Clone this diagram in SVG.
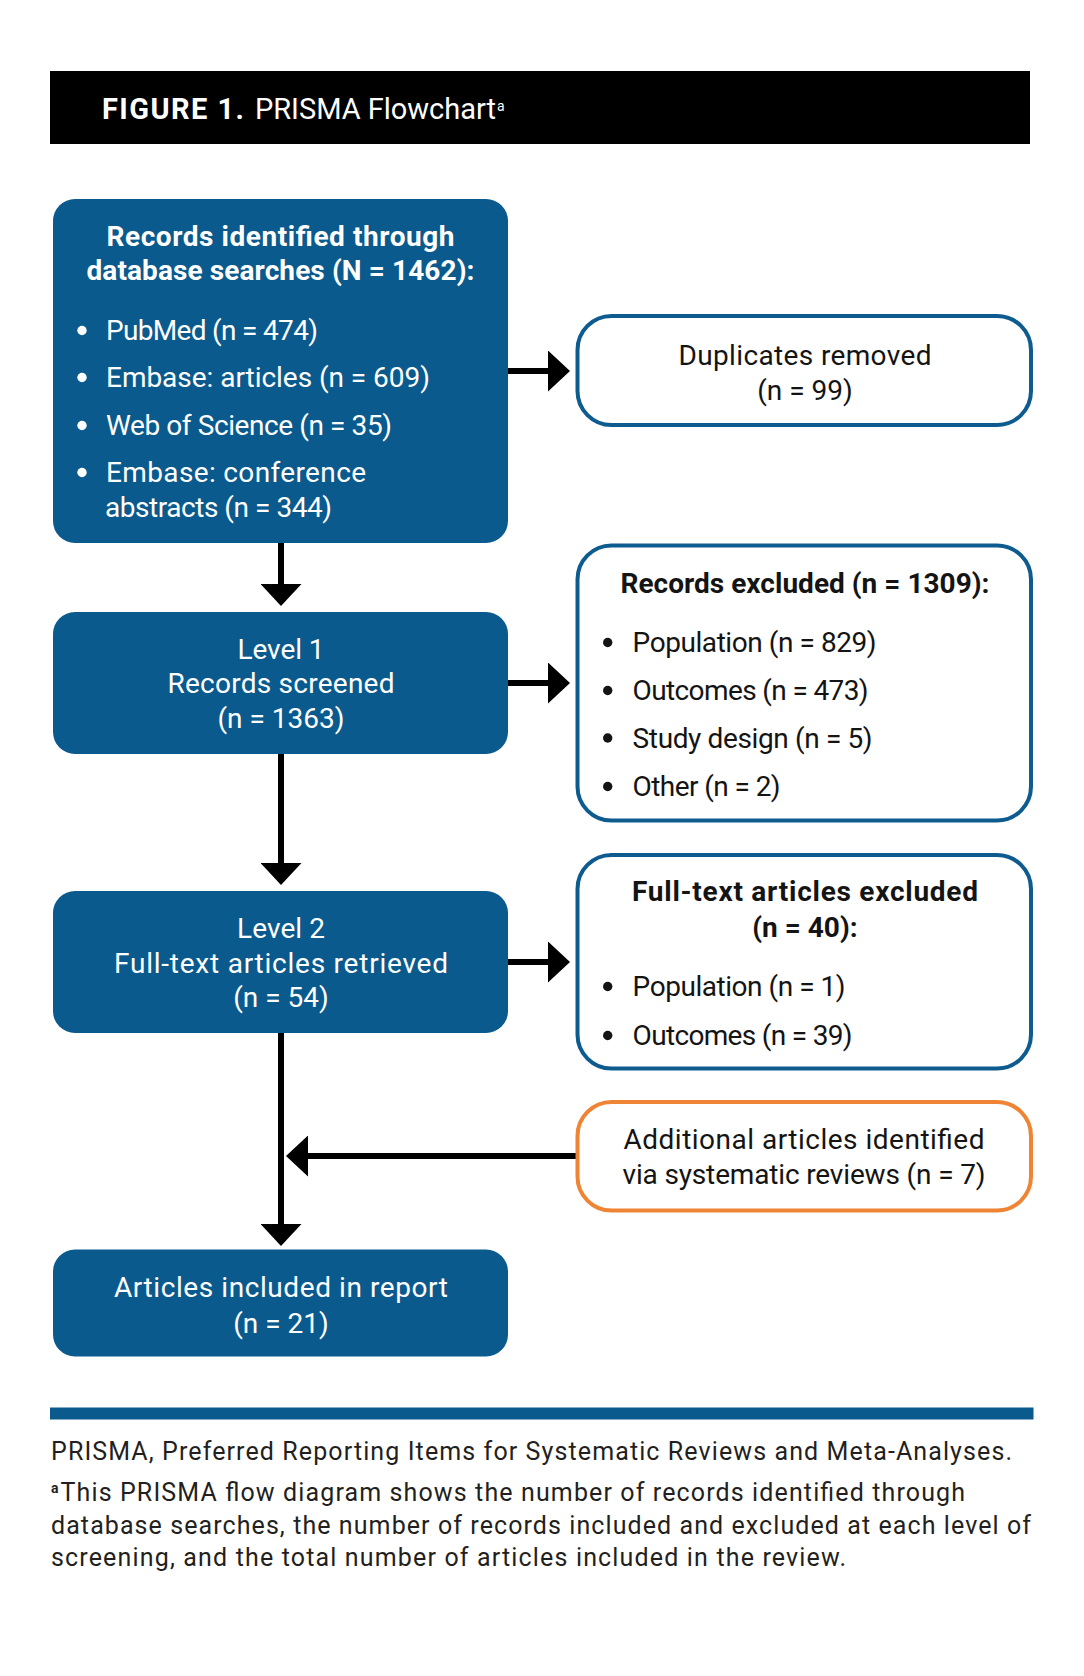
<svg xmlns="http://www.w3.org/2000/svg" width="1084" height="1676" viewBox="0 0 1084 1676">
<style>
.t{font-family:Roboto,"Liberation Sans",sans-serif;}
.w{fill:#ffffff;}
.k{fill:#141414;}
.b{font-weight:bold;}
.s28{font-size:28px;}
.fn{font-size:25px;fill:#231f20;}
.blue{fill:#0a5a8e;}
.ob{fill:#ffffff;stroke:#0e5b8f;stroke-width:4;}
.oo{fill:#ffffff;stroke:#ee8434;stroke-width:4;}
.c{stroke:#000000;stroke-width:6;fill:none;}
.m{text-anchor:middle;}
</style>
<defs>
<marker id="ah" markerUnits="userSpaceOnUse" markerWidth="22" markerHeight="41" refX="0" refY="20.5" orient="auto">
<path d="M0,0 L22,20.5 L0,41 Z" fill="#000000"/>
</marker>
</defs>
<rect width="1084" height="1676" fill="#ffffff"/>

<g id="title">
<rect x="50" y="71" width="980" height="73" fill="#000000"/>
<text class="t w b" x="102" y="119" font-size="29" textLength="142">FIGURE 1.</text>
<text class="t w" x="255" y="119" font-size="29" textLength="241">PRISMA Flowchart</text>
<text class="t w" x="497" y="111" font-size="14">a</text>
</g>

<g id="connectors">
<path class="c" d="M281,543 V584" marker-end="url(#ah)"/>
<path class="c" d="M281,754 V863" marker-end="url(#ah)"/>
<path class="c" d="M281,1033 V1224" marker-end="url(#ah)"/>
<path class="c" d="M508,371 H548" marker-end="url(#ah)"/>
<path class="c" d="M508,683 H548" marker-end="url(#ah)"/>
<path class="c" d="M508,962 H548" marker-end="url(#ah)"/>
<path class="c" d="M576,1156 H308" marker-end="url(#ah)"/>
</g>

<g id="records-identified">
<rect class="blue" x="53" y="199" width="455" height="344" rx="22"/>
<text class="t w b s28 m" x="280.5" y="246" textLength="348">Records identified through</text>
<text class="t w b s28 m" x="280.5" y="280" textLength="388">database searches (N = 1462):</text>
<circle class="w" cx="82" cy="330.5" r="4.7"/>
<circle class="w" cx="82" cy="377.5" r="4.7"/>
<circle class="w" cx="82" cy="425.5" r="4.7"/>
<circle class="w" cx="82" cy="472.5" r="4.7"/>
<text class="t w s28" x="106" y="340" textLength="212">PubMed (n = 474)</text>
<text class="t w s28" x="106" y="387" textLength="324">Embase: articles (n = 609)</text>
<text class="t w s28" x="106" y="435" textLength="286">Web of Science (n = 35)</text>
<text class="t w s28" x="106" y="482" textLength="260">Embase: conference</text>
<text class="t w s28" x="105" y="517" textLength="227">abstracts (n = 344)</text>
</g>

<g id="duplicates-removed">
<rect class="ob" x="577.5" y="316" width="453.5" height="109" rx="34"/>
<text class="t k s28 m" x="805" y="365" textLength="253">Duplicates removed</text>
<text class="t k s28 m" x="805" y="400">(n = 99)</text>
</g>

<g id="level-1">
<rect class="blue" x="53" y="612" width="455" height="142" rx="22"/>
<text class="t w s28 m" x="281" y="659" textLength="87">Level 1</text>
<text class="t w s28 m" x="281" y="693" textLength="227">Records screened</text>
<text class="t w s28 m" x="281" y="728">(n = 1363)</text>
</g>

<g id="records-excluded">
<rect class="ob" x="577.5" y="545.5" width="453.5" height="275" rx="34"/>
<text class="t k b s28 m" x="805" y="592.5" textLength="369">Records excluded (n = 1309):</text>
<circle class="k" cx="607.7" cy="642.5" r="4.7"/>
<circle class="k" cx="607.7" cy="690.5" r="4.7"/>
<circle class="k" cx="607.7" cy="738" r="4.7"/>
<circle class="k" cx="607.7" cy="786.5" r="4.7"/>
<text class="t k s28" x="632.6" y="652" textLength="244">Population (n = 829)</text>
<text class="t k s28" x="632.6" y="700" textLength="236">Outcomes (n = 473)</text>
<text class="t k s28" x="632.6" y="747.5" textLength="240">Study design (n = 5)</text>
<text class="t k s28" x="632.6" y="796" textLength="148">Other (n = 2)</text>
</g>

<g id="level-2">
<rect class="blue" x="53" y="891" width="455" height="142" rx="22"/>
<text class="t w s28 m" x="281" y="937.5" textLength="88">Level 2</text>
<text class="t w s28 m" x="281" y="973" textLength="334">Full-text articles retrieved</text>
<text class="t w s28 m" x="281" y="1007">(n = 54)</text>
</g>

<g id="fulltext-excluded">
<rect class="ob" x="577.5" y="855" width="453.5" height="213.5" rx="34"/>
<text class="t k b s28 m" x="805" y="901" textLength="346">Full-text articles excluded</text>
<text class="t k b s28 m" x="805" y="936.5">(n = 40):</text>
<circle class="k" cx="607.7" cy="986.5" r="4.7"/>
<circle class="k" cx="607.7" cy="1035.5" r="4.7"/>
<text class="t k s28" x="632.6" y="996" textLength="213">Population (n = 1)</text>
<text class="t k s28" x="632.6" y="1045" textLength="220">Outcomes (n = 39)</text>
</g>

<g id="additional-articles">
<rect class="oo" x="577.5" y="1102" width="453.5" height="108.5" rx="34"/>
<text class="t k s28 m" x="804" y="1149" textLength="361">Additional articles identified</text>
<text class="t k s28 m" x="804" y="1184" textLength="363">via systematic reviews (n = 7)</text>
</g>

<g id="articles-included">
<rect class="blue" x="53" y="1249.5" width="455" height="107" rx="22"/>
<text class="t w s28 m" x="281" y="1297" textLength="334">Articles included in report</text>
<text class="t w s28 m" x="281" y="1332.5">(n = 21)</text>
</g>

<g id="footnotes">
<rect class="blue" x="50" y="1407.5" width="983.5" height="12"/>
<text class="t fn" x="51" y="1460" textLength="961">PRISMA, Preferred Reporting Items for Systematic Reviews and Meta-Analyses.</text>
<text class="t fn b" x="51" y="1492.5" style="font-size:14px">a</text>
<text class="t fn" x="60.5" y="1501" textLength="904.5">This PRISMA flow diagram shows the number of records identified through</text>
<text class="t fn" x="51" y="1533.5" textLength="980">database searches, the number of records included and excluded at each level of</text>
<text class="t fn" x="51" y="1566" textLength="795">screening, and the total number of articles included in the review.</text>
</g>
</svg>
